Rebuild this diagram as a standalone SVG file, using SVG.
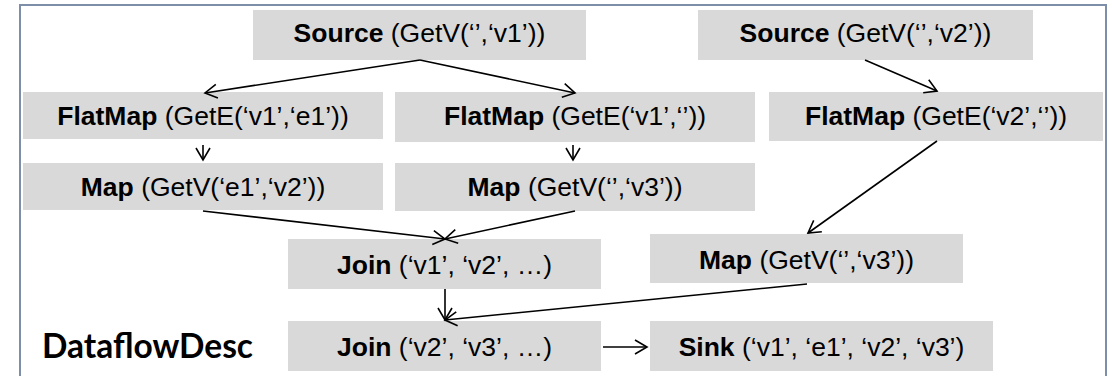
<svg xmlns="http://www.w3.org/2000/svg" width="1112" height="376" viewBox="0 0 1112 376">
  <style>
    .box { fill: #d9d9d9; }
    .lbl { font-family: "Liberation Sans", Arial, sans-serif; font-size: 26.5px; fill: #000; text-anchor: middle; }
    .b { font-weight: bold; }
    .edge { stroke: #000; stroke-width: 1.6; fill: none; marker-end: url(#arr); }
    .title { font-family: Lato, "Open Sans", "Liberation Sans", sans-serif; font-weight: bold; font-size: 35px; fill: #000; }
  </style>
  <defs>
    <marker id="arr" markerUnits="userSpaceOnUse" markerWidth="20" markerHeight="20" refX="15" refY="8" orient="auto" overflow="visible">
      <path d="M3,1 L15,8 L3,15" fill="none" stroke="#000" stroke-width="1.6"/>
    </marker>
  </defs>
  <rect width="1112" height="376" fill="#ffffff"/>
  <rect id="frame" x="20" y="5" width="1086" height="400" fill="none" stroke="#7d8fa8" stroke-width="2"/>

  <g id="source-v1">
    <rect class="box" x="253" y="10" width="333" height="50"/>
    <text class="lbl" x="419.5" y="42"><tspan class="b">Source</tspan> (GetV(‘’,‘v1’))</text>
  </g>
  <g id="source-v2">
    <rect class="box" x="698" y="10" width="335" height="50"/>
    <text class="lbl" x="865.5" y="42"><tspan class="b">Source</tspan> (GetV(‘’,‘v2’))</text>
  </g>
  <g id="flatmap-v1-e1">
    <rect class="box" x="23" y="92" width="360" height="47"/>
    <text class="lbl" x="203" y="125"><tspan class="b">FlatMap</tspan> (GetE(‘v1’,‘e1’))</text>
  </g>
  <g id="flatmap-v1">
    <rect class="box" x="395" y="92" width="360" height="50"/>
    <text class="lbl" x="575" y="125"><tspan class="b">FlatMap</tspan> (GetE(‘v1’,‘’))</text>
  </g>
  <g id="flatmap-v2">
    <rect class="box" x="769" y="92" width="334" height="49"/>
    <text class="lbl" x="936" y="125"><tspan class="b">FlatMap</tspan> (GetE(‘v2’,‘’))</text>
  </g>
  <g id="map-e1-v2">
    <rect class="box" x="23" y="163" width="360" height="47"/>
    <text class="lbl" x="203" y="196"><tspan class="b">Map</tspan> (GetV(‘e1’,‘v2’))</text>
  </g>
  <g id="map-v3-a">
    <rect class="box" x="395" y="163" width="360" height="48"/>
    <text class="lbl" x="575" y="196"><tspan class="b">Map</tspan> (GetV(‘’,‘v3’))</text>
  </g>
  <g id="join-v1-v2">
    <rect class="box" x="288" y="239" width="313" height="50"/>
    <text class="lbl" x="444.5" y="274"><tspan class="b">Join</tspan> (‘v1’, ‘v2’, …)</text>
  </g>
  <g id="map-v3-b">
    <rect class="box" x="650" y="234" width="313" height="49"/>
    <text class="lbl" x="806.5" y="269"><tspan class="b">Map</tspan> (GetV(‘’,‘v3’))</text>
  </g>
  <g id="join-v2-v3">
    <rect class="box" x="288" y="321" width="313" height="50"/>
    <text class="lbl" x="444.5" y="356"><tspan class="b">Join</tspan> (‘v2’, ‘v3’, …)</text>
  </g>
  <g id="sink">
    <rect class="box" x="650" y="321" width="343" height="50"/>
    <text class="lbl" x="821.5" y="356"><tspan class="b">Sink</tspan> (‘v1’, ‘e1’, ‘v2’, ‘v3’)</text>
  </g>
  <g id="label">
    <text class="title" x="42" y="358" textLength="211" lengthAdjust="spacingAndGlyphs">DataflowDesc</text>
  </g>

  <g id="connectors">
    <line class="edge" x1="420" y1="60" x2="205" y2="93"/>
    <line class="edge" x1="420" y1="60" x2="575" y2="93"/>
    <line class="edge" x1="865" y1="60" x2="937" y2="91"/>
    <line class="edge" x1="203" y1="145" x2="203" y2="160"/>
    <line class="edge" x1="573" y1="145" x2="573" y2="160"/>
    <line class="edge" x1="937" y1="141" x2="808" y2="233"/>
    <line class="edge" x1="203" y1="211" x2="445" y2="239"/>
    <line class="edge" x1="575" y1="211" x2="445" y2="239"/>
    <line class="edge" x1="445" y1="289" x2="445" y2="320"/>
    <line class="edge" x1="807" y1="284" x2="445" y2="320"/>
    <line class="edge" x1="603" y1="347" x2="647" y2="347"/>
  </g>
</svg>
